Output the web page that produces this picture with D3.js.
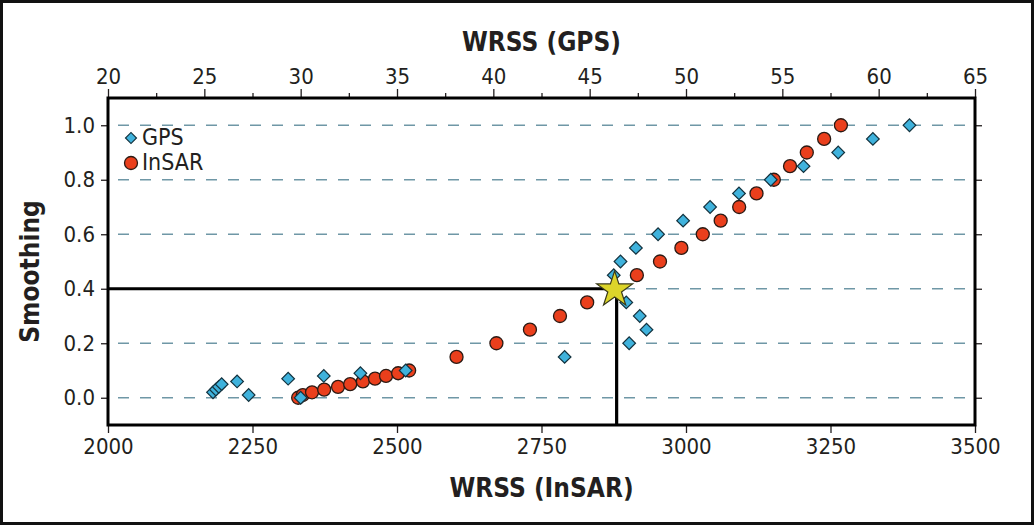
<!DOCTYPE html>
<html>
<head>
<meta charset="utf-8">
<script src="https://cdn.jsdelivr.net/npm/d3@7"></script>
<style>
  html, body { margin: 0; padding: 0; background: #fff; }
  svg text { font-family: "Liberation Sans Narrow", "DejaVu Sans Condensed", "Arial Narrow", sans-serif; fill: #231f20; }
</style>
</head>
<body>
<svg id="chart" width="1035" height="526"></svg>
<script>
// ---- Data ----
const insarSmoothing = [0.00, 0.01, 0.02, 0.03, 0.04, 0.05, 0.06, 0.07, 0.08, 0.09, 0.10,
  0.15, 0.20, 0.25, 0.30, 0.35, 0.45, 0.50, 0.55, 0.60, 0.65, 0.70, 0.75, 0.80, 0.85, 0.90, 0.95, 1.00];
const insarWrss = [2329, 2337, 2353, 2374, 2398, 2419, 2441, 2462, 2481, 2502, 2521,
  2603, 2672, 2730, 2782, 2829, 2915, 2955, 2992, 3029, 3060, 3092, 3122, 3152, 3180, 3209, 3239, 3268];

const gpsSmoothing = [0.00, 0.01, 0.02, 0.03, 0.04, 0.05, 0.06, 0.07, 0.08, 0.09, 0.10,
  0.15, 0.20, 0.25, 0.30, 0.35, 0.40, 0.45, 0.50, 0.55, 0.60, 0.65, 0.70, 0.75, 0.80, 0.85, 0.90, 0.95, 1.00];
const gpsWrss = [30.0, 27.3, 25.45, 25.6, 25.75, 25.9, 26.7, 29.35, 31.2, 33.1, 35.45,
  43.7, 47.05, 47.95, 47.6, 46.9, 46.4, 46.25, 46.6, 47.4, 48.55, 49.85, 51.25, 52.75, 54.4, 56.1, 57.9, 59.7, 61.6];

const chosen = { insar: 2880, smoothing: 0.40 };

const insarTicks = [2000, 2250, 2500, 2750, 3000, 3250, 3500];
const gpsTicks = [20, 25, 30, 35, 40, 45, 50, 55, 60, 65];
const gpsMinorTicks = [22.5, 27.5, 32.5, 37.5, 42.5, 47.5, 52.5, 57.5, 62.5];
const smoothingTicks = [0.0, 0.2, 0.4, 0.6, 0.8, 1.0];
const legendLabels = ["GPS", "InSAR"];

// ---- Layout ----
const svg = d3.select("#chart");
const L = 108, R = 975, T = 98, B = 425;
const x = d3.scaleLinear().domain([2000, 3500]).range([L, R]);
const xg = d3.scaleLinear().domain([20, 65]).range([L, R]);
const y = d3.scaleLinear().domain([-0.1, 1.1]).range([B, T]);

const ink = "#231f20";
const blue = "#3fb2dc", red = "#ea3f1c", star = "#dcd52a";

// outer frame
svg.append("rect").attr("x", 1.5).attr("y", 1.5).attr("width", 1031).attr("height", 522)
  .attr("fill", "#fff").attr("stroke", "#111").attr("stroke-width", 3);

// gridlines
svg.append("g").selectAll("line").data(smoothingTicks).join("line")
  .attr("x1", L + 10).attr("x2", R - 8)
  .attr("y1", d => y(d)).attr("y2", d => y(d))
  .attr("stroke", "#6f97a6").attr("stroke-width", 1.5)
  .attr("stroke-dasharray", "11,11");

// axes
const tickFont = "22px";
svg.append("g").attr("transform", `translate(0,${B})`)
  .call(d3.axisBottom(x).tickValues(insarTicks).tickFormat(d3.format("d")).tickSize(8).tickPadding(5));
svg.append("g").attr("transform", `translate(0,${T})`)
  .call(d3.axisTop(xg).tickValues(gpsTicks).tickFormat(d3.format("d")).tickSize(9).tickPadding(5));
svg.append("g").attr("transform", `translate(0,${T})`)
  .call(d3.axisTop(xg).tickValues(gpsMinorTicks).tickFormat("").tickSize(5));
svg.append("g").attr("transform", `translate(${L},0)`)
  .call(d3.axisLeft(y).tickValues(smoothingTicks).tickFormat(d3.format(".1f")).tickSize(7).tickPadding(6));
svg.append("g").attr("transform", `translate(${R},0)`)
  .call(d3.axisRight(y).tickValues(smoothingTicks).tickFormat("").tickSize(7));

svg.selectAll(".domain").remove();
svg.selectAll(".tick line").attr("stroke", ink).attr("stroke-width", 1.3);
svg.selectAll(".tick text").style("font-size", tickFont).attr("fill", ink)
  .style("font-family", '"Liberation Sans Narrow", "DejaVu Sans Condensed", sans-serif');

// plot frame
svg.append("rect").attr("x", L).attr("y", T).attr("width", R - L).attr("height", B - T)
  .attr("fill", "none").attr("stroke", "#000").attr("stroke-width", 3);

// chosen-value lines
svg.append("path")
  .attr("d", `M${L},${y(chosen.smoothing)}H${x(chosen.insar)}V${B}`)
  .attr("fill", "none").attr("stroke", "#000").attr("stroke-width", 3.2);

const insar = insarWrss.map((w, i) => ({ w, s: insarSmoothing[i] }));
const gps = gpsWrss.map((w, i) => ({ w, s: gpsSmoothing[i] }));

const diamond = d3.symbol().type(d3.symbolSquare).size(80);

// InSAR circles
svg.append("g").selectAll("circle").data(insar).join("circle")
  .attr("cx", d => x(d.w)).attr("cy", d => y(d.s)).attr("r", 6.5)
  .attr("fill", red).attr("stroke", "#2a1a14").attr("stroke-width", 1.3);

// GPS diamonds
svg.append("g").selectAll("path").data(gps).join("path")
  .attr("d", diamond)
  .attr("transform", d => `translate(${xg(d.w)},${y(d.s)}) rotate(45)`)
  .attr("fill", blue).attr("stroke", "#13323e").attr("stroke-width", 1.2);

// star
svg.append("path")
  .attr("d", d3.symbol().type(d3.symbolStar).size(400))
  .attr("transform", `translate(${x(chosen.insar) - 2},${y(chosen.smoothing) + 1})`)
  .attr("fill", star).attr("stroke", "#3a3a1a").attr("stroke-width", 1.2);

// legend
const lg = svg.append("g");
lg.append("path").attr("d", d3.symbol().type(d3.symbolSquare).size(60))
  .attr("transform", "translate(131,138) rotate(45)")
  .attr("fill", blue).attr("stroke", "#13323e").attr("stroke-width", 1.2);
lg.append("circle").attr("cx", 131).attr("cy", 163).attr("r", 6.5)
  .attr("fill", red).attr("stroke", "#2a1a14").attr("stroke-width", 1.3);
lg.selectAll("text").data(legendLabels).join("text")
  .attr("x", 142).attr("y", (d, i) => 137 + i * 25).attr("dy", "0.36em")
  .style("font-size", "23px").text(d => d);

// axis titles
svg.append("text").attr("x", (L + R) / 2).attr("y", 42).attr("text-anchor", "middle")
  .attr("dy", "0.36em").style("font-size", "26px").style("font-weight", "bold").text("WRSS (GPS)");
svg.append("text").attr("x", (L + R) / 2).attr("y", 488).attr("text-anchor", "middle")
  .attr("dy", "0.36em").style("font-size", "26px").style("font-weight", "bold").text("WRSS (InSAR)");
svg.append("text").attr("transform", `translate(30,${(T + B) / 2 + 10}) rotate(-90)`)
  .attr("text-anchor", "middle").attr("dy", "0.36em")
  .style("font-size", "26px").style("font-weight", "bold").text("Smoothing");
</script>
</body>
</html>
